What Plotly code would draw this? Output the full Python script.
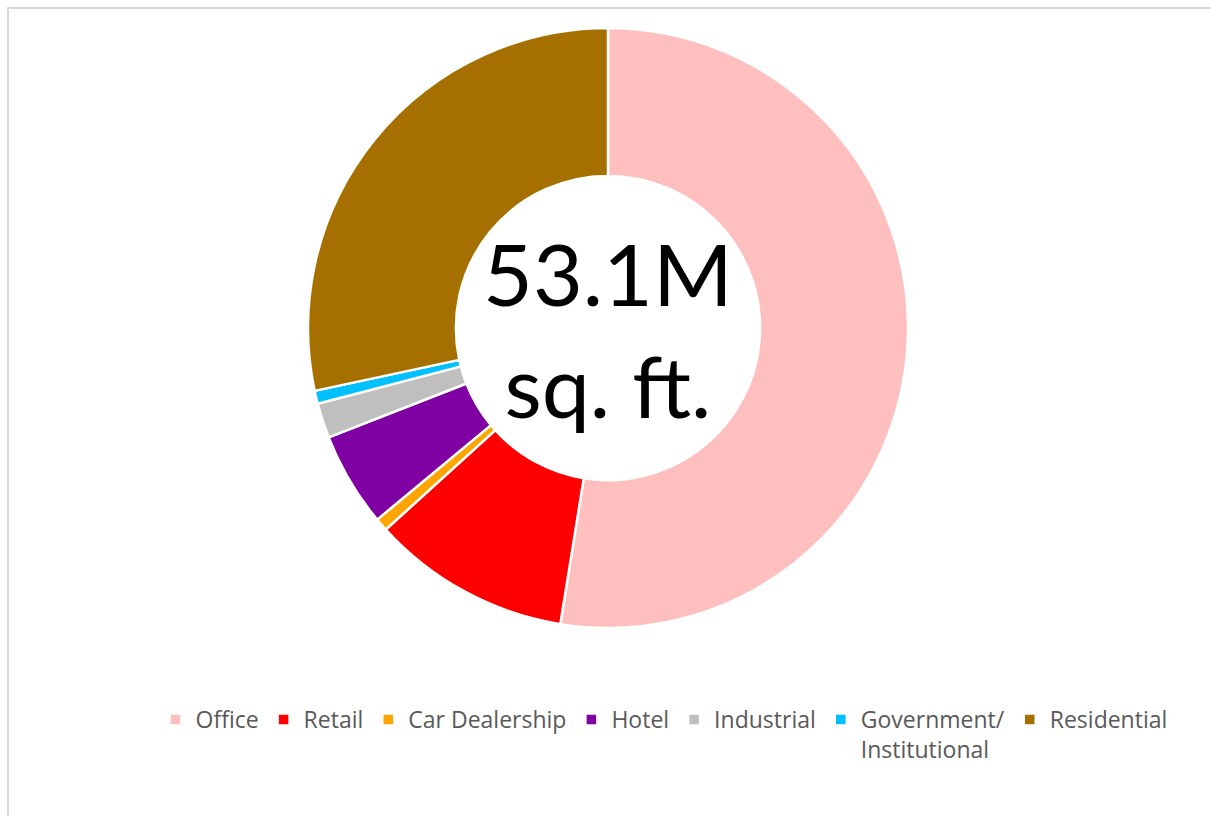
import plotly.graph_objects as go

# Floor area by property type, millions of sq. ft.
categories = ["Office", "Retail", "Car Dealership", "Hotel", "Industrial",
              "Government/<br>Institutional", "Residential"]
area_msf = [27.9, 5.7, 0.37, 2.7, 1.0, 0.37, 15.06]
colors = ["#FFBFBF", "#FF0000", "#FFA500", "#7F00A3", "#BFBFBF", "#00C0FF", "#A67000"]
center_label = ["53.1M", "sq. ft."]

W, H = 1211, 816
cx, cy, r = 608, 328, 300

fig = go.Figure(go.Pie(
    labels=categories,
    values=area_msf,
    hole=0.507,
    sort=False,
    direction="clockwise",
    rotation=0,
    textinfo="none",
    marker=dict(colors=colors, line=dict(color="white", width=2.5)),
    domain=dict(x=[(cx - r) / W, (cx + r) / W], y=[(H - cy - r) / H, (H - cy + r) / H]),
))

fig.add_annotation(
    x=cx / W, y=(H - cy) / H, xref="paper", yref="paper",
    text="<br>".join(center_label), showarrow=False,
    font=dict(family="Lato", size=86, color="black"),
    xanchor="center", yanchor="middle",
)

# thin frame around the chart area
fig.add_shape(type="rect", xref="paper", yref="paper",
              x0=8 / W, y0=-0.05, x1=1.05, y1=(H - 8) / H,
              line=dict(color="#D9D9D9", width=2), fillcolor="rgba(0,0,0,0)")

fig.update_layout(
    width=W, height=H,
    margin=dict(l=0, r=0, t=0, b=0),
    paper_bgcolor="white",
    showlegend=True,
    legend=dict(
        orientation="h", x=664 / W, xanchor="center", y=(H - 698) / H, yanchor="top",
        font=dict(family="Open Sans", size=23, color="#595959"),
        valign="top", traceorder="normal", tracegroupgap=0,
    ),
)

fig.write_html("out.html")
